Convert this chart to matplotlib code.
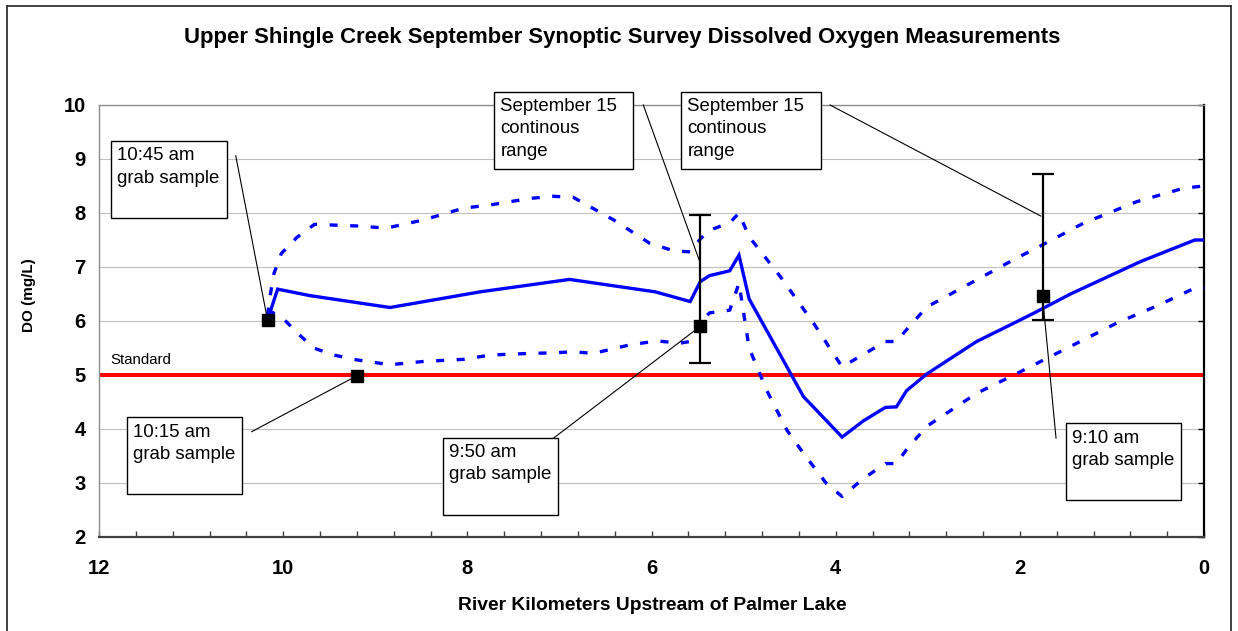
import matplotlib
matplotlib.use("Agg")
import matplotlib.pyplot as plt
from matplotlib.patches import Rectangle
from matplotlib.lines import Line2D
import numpy as np

plt.rcParams['font.family'] = ['Liberation Sans', 'DejaVu Sans']
plt.rcParams['lines.scale_dashes'] = False

# ---------------- data ----------------
km_mean = [10.17, 10.06, 9.71, 8.84, 7.86, 6.89, 5.96, 5.58, 5.47, 5.37, 5.15, 5.05, 4.94,
           4.35, 3.93, 3.70, 3.46, 3.34, 3.23, 3.01, 2.47, 2.03, 1.82, 1.45, 0.69, 0.10, 0.0]
do_mean = [6.02, 6.59, 6.47, 6.25, 6.54, 6.77, 6.54, 6.36, 6.73, 6.84, 6.93, 7.22, 6.41,
           4.60, 3.85, 4.15, 4.40, 4.41, 4.71, 5.02, 5.62, 5.99, 6.17, 6.50, 7.10, 7.50, 7.50]

km_max = [10.17, 10.14, 10.10, 10.02, 9.85, 9.66, 9.20, 8.88, 8.48, 8.04, 7.75, 7.32, 7.07,
          6.85, 6.41, 6.02, 5.76, 5.58, 5.47, 5.37, 5.15, 5.05, 4.94, 4.60, 4.24, 3.93, 3.70,
          3.46, 3.34, 3.23, 3.01, 2.47, 2.03, 1.82, 1.31, 0.73, 0.22, 0.0]
do_max = [6.10, 6.48, 6.88, 7.25, 7.55, 7.79, 7.76, 7.72, 7.87, 8.09, 8.15, 8.27, 8.31,
          8.29, 7.87, 7.44, 7.30, 7.28, 7.52, 7.68, 7.82, 8.00, 7.56, 6.82, 5.96, 5.15, 5.38,
          5.62, 5.62, 5.84, 6.26, 6.76, 7.17, 7.35, 7.81, 8.21, 8.46, 8.50]

km_min = [10.17, 10.02, 9.84, 9.67, 9.45, 9.20, 8.84, 8.48, 8.04, 7.75, 7.32, 7.07, 6.85,
          6.63, 6.23, 5.94, 5.69, 5.58, 5.47, 5.37, 5.15, 5.05, 4.94, 4.75, 4.53, 4.35, 4.10,
          3.93, 3.70, 3.46, 3.34, 3.23, 3.01, 2.47, 2.03, 1.60, 0.95, 0.51, 0.10, 0.0]
do_min = [6.20, 6.08, 5.77, 5.50, 5.37, 5.28, 5.19, 5.25, 5.29, 5.37, 5.40, 5.41, 5.43,
          5.40, 5.56, 5.63, 5.59, 5.62, 5.98, 6.15, 6.20, 6.70, 5.50, 4.72, 3.98, 3.55, 2.99,
          2.75, 3.08, 3.36, 3.36, 3.62, 4.05, 4.66, 5.03, 5.40, 5.96, 6.28, 6.61, 6.61]

grab_km = [10.17, 9.20, 5.47, 1.75]
grab_do = [6.02, 4.98, 5.91, 6.47]

range_km = [5.47, 1.75]
range_low = [5.22, 6.01]
range_high = [7.96, 8.73]

standard_do = 5.0

# ---------------- figure ----------------
W, H = 1238, 631
fig = plt.figure(figsize=(W / 100, H / 100), dpi=100)
ax = fig.add_axes([99 / W, 1 - 537 / H, (1204 - 99) / W, (537 - 105) / H])

ax.set_xlim(12, 0)
ax.set_ylim(2, 10)

ax.yaxis.grid(True, color='#bfbfbf', lw=0.8)
ax.set_axisbelow(True)

ax.axhline(standard_do, color='#ff0000', lw=2.9, zorder=2)

ax.plot(km_mean, do_mean, color='#0000ff', lw=2.4, zorder=3, solid_joinstyle='miter')
ax.plot(km_max, do_max, color='#0000ff', lw=2.4, dashes=(5.8, 9.0), dash_capstyle='butt', zorder=3)
ax.plot(km_min, do_min, color='#0000ff', lw=2.4, dashes=(5.8, 9.0), dash_capstyle='butt', zorder=3)

rng_mid = [(lo + hi) / 2 for lo, hi in zip(range_low, range_high)]
rng_err = [[m - lo for m, lo in zip(rng_mid, range_low)], [hi - m for m, hi in zip(rng_mid, range_high)]]
ax.errorbar(range_km, rng_mid, yerr=rng_err, fmt='none', ecolor='black', elinewidth=1.6,
            capsize=8, capthick=1.6, zorder=4)

ax.plot(grab_km, grab_do, linestyle='none', marker='s', ms=8, color='black', zorder=6)

# axes styling
for s in ['top', 'left']:
    ax.spines[s].set_color('#8c8c8c')
    ax.spines[s].set_linewidth(1.0)
ax.spines['bottom'].set_color('#404040')
ax.spines['bottom'].set_linewidth(1.6)
ax.spines['right'].set_color('#000000')
ax.spines['right'].set_linewidth(1.6)

bold = dict(weight='bold')

ax.set_xticks(np.arange(0, 12.01, 0.4), minor=True)
ax.set_xticks([12, 10, 8, 6, 4, 2, 0])
ax.set_xticklabels(['12', '10', '8', '6', '4', '2', '0'], fontsize=14.5, **bold)
ax.tick_params(axis='x', which='both', direction='in', length=4.3, width=1.0, color='#404040', pad=15.5)
ax.set_yticks(range(2, 11))
ax.set_yticklabels([str(v) for v in range(2, 11)], fontsize=14.5, **bold)
ax.tick_params(axis='y', direction='in', length=4.3, width=1.0, left=False, right=True,
               labelleft=True, labelright=False, pad=9.5)

fig.text(622 / W, 1 - 38 / H, 'Upper Shingle Creek September Synoptic Survey Dissolved Oxygen Measurements',
         ha='center', va='center', fontsize=15.9, **bold)
fig.text(652 / W, 1 - 605 / H, 'River Kilometers Upstream of Palmer Lake',
         ha='center', va='center', fontsize=13.9, **bold)
fig.text(29 / W, 1 - 295 / H, 'DO (mg/L)', rotation=90,
         ha='center', va='center', fontsize=11, **bold)

ax.text(11.873, 5.2, 'Standard', fontsize=10.8, ha='left', va='baseline', zorder=5)

# ---------------- callout boxes ----------------
boxes = [
    # (left km, right km, top DO, bottom DO, text, leader start (km, DO), leader end (km, DO))
    (11.873, 10.614, 9.333, 7.913, '10:45 am\ngrab sample', (10.515, 9.06), (10.17, 6.02)),
    (11.699, 10.447, 4.217, 2.791, '10:15 am\ngrab sample', (10.342, 3.95), (9.25, 4.94)),
    (8.267, 7.018, 3.839, 2.413, '9:50 am\ngrab sample', (7.18, 3.68), (5.51, 5.85)),
    (1.502, 0.250, 4.106, 2.685, '9:10 am\ngrab sample', (1.607, 3.83), (1.75, 6.40)),
    (7.710, 6.197, 10.246, 8.815, 'September 15\ncontinous\nrange', (6.089, 10.0), (5.47, 7.07)),
    (5.679, 4.163, 10.246, 8.815, 'September 15\ncontinous\nrange', (4.061, 10.0), (1.773, 7.944)),
]
for left, right, top, bottom, txt, p0, p1 in boxes:
    ax.add_line(Line2D([p0[0], p1[0]], [p0[1], p1[1]], color='black', lw=0.8, zorder=5, clip_on=False))
    r = Rectangle((right, bottom), left - right, top - bottom, facecolor='white',
                  edgecolor='black', lw=1.0, zorder=7, clip_on=False)
    ax.add_patch(r)
    ax.annotate(txt, xy=(left, top), xytext=(4.5, -4.5), textcoords='offset points',
                ha='left', va='top', fontsize=13.4, linespacing=1.42, zorder=8,
                annotation_clip=False)

# outer frame
frame_col = '#333333'
fig.add_artist(Line2D([6.5 / W, 6.5 / W], [1 - 6 / H, 0], transform=fig.transFigure, color=frame_col, lw=1.3))
fig.add_artist(Line2D([6.5 / W, 1231 / W], [1 - 6 / H, 1 - 6 / H], transform=fig.transFigure, color=frame_col, lw=1.3))
fig.add_artist(Line2D([1231 / W, 1231 / W], [1 - 6 / H, 0], transform=fig.transFigure, color=frame_col, lw=1.3))

fig.savefig('out.png', dpi=100, facecolor='white')
